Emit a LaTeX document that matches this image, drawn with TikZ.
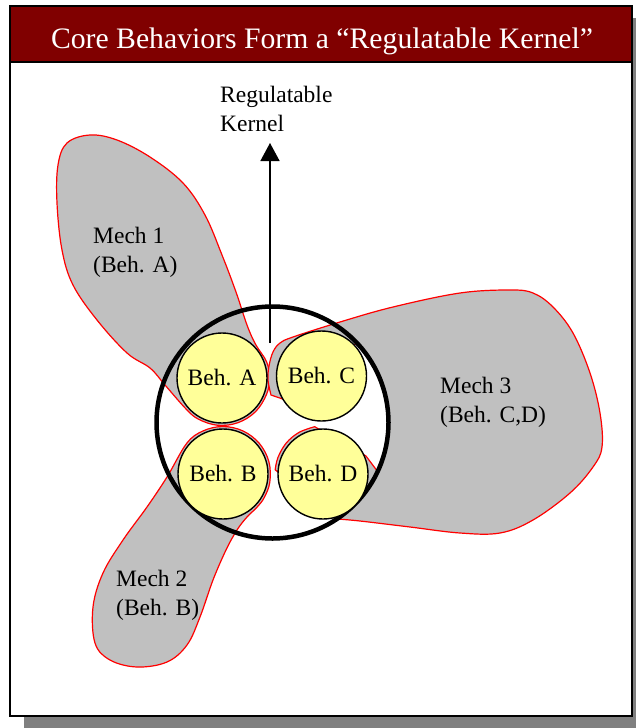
\documentclass[tikz,border=0pt]{standalone}
\usepackage{fontspec}
\setmainfont{Liberation Serif}
\usetikzlibrary{arrows.meta}

\definecolor{titlered}{HTML}{800000}
\definecolor{mechgray}{HTML}{C0C0C0}
\definecolor{behyellow}{HTML}{FFFF99}
\definecolor{shadowgray}{HTML}{808080}

\begin{document}
\begin{tikzpicture}[x=1pt,y=-1pt,
	mech/.style={fill=mechgray,draw=red,line width=1.2pt},
	beh/.style={circle,draw=black,line width=1.4pt,fill=behyellow,minimum size=90pt,inner sep=0pt,font=\fontsize{23.5}{28}\selectfont},
	kernel/.style={circle,draw=black,line width=4.5pt,minimum size=232pt,inner sep=0pt},
	mechlbl/.style={align=left,anchor=west,inner sep=0pt,font=\fontsize{23.5}{29}\selectfont}]
	\useasboundingbox (0,0) rectangle (636,728);

	% frame, shadow and title bar
	\fill[shadowgray] (24,18) rectangle (636,728);
	\draw[fill=white,line width=1.5pt] (10,62) rectangle (632,716);
	\draw[fill=titlered,line width=1.5pt] (10,6) rectangle (632,62);
	\node[text=white,font=\fontsize{29.7}{34}\selectfont] (title) at (322,41) {Core Behaviors Form a “Regulatable Kernel”};

	% Mech 1, round Beh. A
	\draw[mech] plot[smooth cycle,tension=0.6] coordinates {(67,143) (90,135) (117,140) (150,157) (183,183) (205,215) (222,255) (236,292) (247,325)
		(255.6,344.4) (266.6,361.8) (269.5,378) (266.6,394.2) (255.6,411.6) (238.2,422.6) (217.9,425.3) (198.3,419.1) (185.6,408.5)
		(165,385) (150,368) (127,353) (97,320) (73,285) (62,250) (57,203) (58,165)};

	% Mech 2, round Beh. B
	\draw[mech] plot[smooth cycle,tension=0.6] coordinates {(137,667) (110,660) (95,643) (93,607) (103,573) (123,540) (147,507) (167,477)
		(186.6,443.5) (202.9,431) (223,426.5) (243.1,431) (259.4,443.5) (268.9,461.7) (269.8,482.2) (264.1,497.8) (256.6,507.6)
		(247,517) (237,530) (226,550) (213,580) (200,617) (187,645) (167,662)};

	% Mech 3, round Beh. C and Beh. D
	\draw[mech] plot[smooth,tension=0.6] coordinates {(337,519) (360,521) (410,527) (460,533) (500,533) (533,520) (570,493) (593,467) (602,447)
		(600,413) (590,373) (573,333) (553,307) (533,293) (510,290) (460,293) (393,307) (340,322) (293,337) (280,343) (273,352)
		(269,366) (268,380) (271,395)}
		-- (300,405) -- (356.6,342.6) -- (373,364.5) -- (384.5,392.5) -- (388.5,422.5) -- (384.5,452.5) -- (377.6,471.5) -- (366,456)
		-- plot[smooth,tension=0.6] coordinates {(314.7,426.7) (299,432.4) (286.2,443.1) (277.9,457.6) (275.2,469.8)} -- cycle;

	\node[kernel] (core) at (272.5,422.5) {};

	\node[beh] (behA) at (222,378) {Beh. A};
	\node[beh] (behC) at (321.5,376) {Beh. C};
	\node[beh] (behB) at (223,474) {Beh. B};
	\node[beh] (behD) at (323,474) {Beh. D};

	% kernel arrow
	\coordinate (kbase) at (270,343);
	\coordinate (ktip) at (270,143);
	\draw[line width=1.5pt,-{Triangle[width=19pt,length=18pt]}] (kbase) -- (ktip);

	\node[mechlbl] (kernlbl) at (220,109) {Regulatable\\Kernel};
	\node[mechlbl] (mechone) at (93,252) {Mech 1\\(Beh. A)};
	\node[mechlbl] (mechtwo) at (116,595) {Mech 2\\(Beh. B)};
	\node[mechlbl] (mechthree) at (440,402) {Mech 3\\(Beh. C,D)};
\end{tikzpicture}
\end{document}
